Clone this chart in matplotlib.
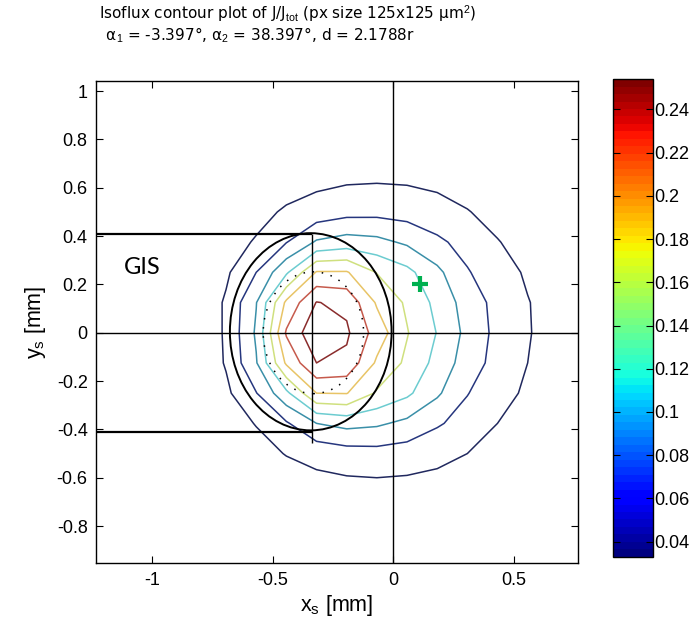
import matplotlib
matplotlib.use('Agg')
import matplotlib.pyplot as plt
import numpy as np
from matplotlib.cm import ScalarMappable
from matplotlib.colors import Normalize
from matplotlib.patches import Ellipse

# detector pixel centres (125 um pitch), mm
x_px = [-0.943, -0.818, -0.693, -0.568, -0.443, -0.318, -0.193, -0.068,
        0.057, 0.182, 0.307, 0.432, 0.557, 0.682]
y_px = [-0.75, -0.625, -0.5, -0.375, -0.25, -0.125, 0.0,
        0.125, 0.25, 0.375, 0.5, 0.625, 0.75]

# J/J_tot, rows bottom -> top
flux = [
    [0.020, 0.028, 0.033, 0.033, 0.034, 0.035, 0.037, 0.038, 0.037, 0.036, 0.034, 0.033, 0.033, 0.030],
    [0.020, 0.028, 0.033, 0.035, 0.039, 0.043, 0.045, 0.046, 0.045, 0.043, 0.040, 0.035, 0.033, 0.030],
    [0.020, 0.030, 0.036, 0.042, 0.051, 0.058, 0.064, 0.066, 0.063, 0.057, 0.050, 0.043, 0.036, 0.032],
    [0.020, 0.030, 0.040, 0.051, 0.072, 0.100, 0.108, 0.104, 0.094, 0.078, 0.065, 0.050, 0.041, 0.034],
    [0.020, 0.031, 0.045, 0.074, 0.119, 0.175, 0.176, 0.147, 0.130, 0.104, 0.076, 0.059, 0.046, 0.037],
    [0.020, 0.030, 0.052, 0.098, 0.179, 0.225, 0.219, 0.171, 0.145, 0.117, 0.088, 0.066, 0.050, 0.039],
    [0.020, 0.030, 0.053, 0.1035, 0.203, 0.245, 0.229, 0.189, 0.1515, 0.124, 0.093, 0.068, 0.052, 0.037],
    [0.020, 0.030, 0.053, 0.099, 0.180, 0.226, 0.219, 0.172, 0.146, 0.118, 0.089, 0.067, 0.051, 0.040],
    [0.020, 0.031, 0.046, 0.075, 0.121, 0.177, 0.177, 0.149, 0.132, 0.106, 0.077, 0.060, 0.047, 0.038],
    [0.020, 0.030, 0.041, 0.052, 0.074, 0.103, 0.111, 0.107, 0.096, 0.080, 0.066, 0.051, 0.042, 0.035],
    [0.020, 0.030, 0.036, 0.043, 0.053, 0.060, 0.067, 0.068, 0.065, 0.059, 0.051, 0.043, 0.037, 0.032],
    [0.020, 0.028, 0.033, 0.036, 0.040, 0.045, 0.048, 0.049, 0.048, 0.045, 0.041, 0.036, 0.033, 0.030],
    [0.020, 0.028, 0.033, 0.033, 0.034, 0.036, 0.038, 0.039, 0.038, 0.037, 0.034, 0.033, 0.033, 0.030],
]

levels = [0.05, 0.075, 0.1, 0.125, 0.15, 0.175, 0.2, 0.225]
level_colors = ['#20285e', '#26367e', '#3a8fa8', '#6cccd0',
                '#cfe07e', '#e8c466', '#c65a4c', '#8a2c2c']
clim = [0.033, 0.254]
cbar_ticks = [0.04, 0.06, 0.08, 0.1, 0.12, 0.14, 0.16, 0.18, 0.2, 0.22, 0.24]
cbar_labels = ['0.04', '0.06', '0.08', '0.1', '0.12', '0.14', '0.16',
               '0.18', '0.2', '0.22', '0.24']

xticks = [-1, -0.5, 0, 0.5]
xtick_labels = ['-1', '-0.5', '0', '0.5']
yticks = [-0.8, -0.6, -0.4, -0.2, 0, 0.2, 0.4, 0.6, 0.8, 1]
ytick_labels = ['-0.8', '-0.6', '-0.4', '-0.2', '0', '0.2', '0.4', '0.6', '0.8', '1']
xlim = [-1.232, 0.764]
ylim = [-0.954, 1.043]

# GIS nozzle footprint and beam ellipses (mm)
gis_half_width = 0.41
gis_end_x = -0.338
gis_stub_bottom = -0.455
spot_center = (-0.342, 0.004)
spot_axes = (0.67, 0.816)
core_center = (-0.331, 0.0)
core_axes = (0.416, 0.504)
target_xy = (0.11, 0.20)

plt.rcParams['font.family'] = ['Liberation Sans', 'DejaVu Sans']
plt.rcParams['mathtext.fontset'] = 'custom'
plt.rcParams['mathtext.rm'] = 'Liberation Sans'
plt.rcParams['mathtext.it'] = 'Liberation Sans:italic'

fig = plt.figure(figsize=(6.93, 6.30), dpi=100)
ax = fig.add_axes([0.1385, 0.1059, 0.695, 0.766])

Z = np.array(flux)
ax.contour(x_px, y_px, Z, levels=levels, colors=level_colors, linewidths=1.1, zorder=2)

ax.axhline(0, color='black', lw=1.0, zorder=3)
ax.axvline(0, color='black', lw=1.0, zorder=3)

ax.hlines([gis_half_width, -gis_half_width], xlim[0], gis_end_x, color='black', lw=1.6, zorder=4)
ax.vlines(gis_end_x, gis_stub_bottom, gis_half_width, color='black', lw=1.0, zorder=4)
ax.text(-1.04, 0.27, 'GIS', family=['Lato', 'DejaVu Sans'], fontsize=17,
        ha='center', va='center')

ax.add_patch(Ellipse(spot_center, spot_axes[0], spot_axes[1], fill=False,
                     ec='black', lw=1.4, zorder=4))
ax.add_patch(Ellipse(core_center, core_axes[0], core_axes[1], fill=False,
                     ec='black', lw=1.1, ls=(0, (1, 5)), zorder=4))

ax.plot(*target_xy, marker='+', color='#00b050', ms=11, mew=3, zorder=5)

ax.set_xlim(xlim)
ax.set_ylim(ylim)
ax.set_xticks(xticks)
ax.set_xticklabels(xtick_labels)
ax.set_yticks(yticks)
ax.set_yticklabels(ytick_labels)
ax.tick_params(direction='in', top=True, right=True, length=5, width=0.8,
               labelsize=13, pad=6)
for sp in ax.spines.values():
    sp.set_linewidth(1.0)
ax.set_xlabel('x$_\\mathrm{s}$ [mm]', fontsize=15.5, labelpad=3)
ax.set_ylabel('y$_\\mathrm{s}$ [mm]', fontsize=15.5, labelpad=6)

title_font = ['DejaVu Sans']
fig.text(99 / 693, 1 - 19.0 / 630,
         'Isoflux contour plot of J/J$_\\mathrm{tot}$ (px size 125x125 \u03bcm$^\\mathrm{2}$)',
         family=title_font, fontsize=11, ha='left', va='baseline')
fig.text(101 / 693, 1 - 40.5 / 630,
         ' \u03b1$_\\mathrm{1}$ = -3.397\u00b0, \u03b1$_\\mathrm{2}$ = 38.397\u00b0, d = 2.1788r',
         family=title_font, fontsize=11, ha='left', va='baseline')

cax = fig.add_axes([0.885, 0.1163, 0.0577, 0.758])
sm = ScalarMappable(norm=Normalize(vmin=clim[0], vmax=clim[1]), cmap=plt.get_cmap('jet', 64))
cb = fig.colorbar(sm, cax=cax)
cb.set_ticks(cbar_ticks)
cb.set_ticklabels(cbar_labels)
cax.tick_params(direction='in', left=True, right=True, length=5, width=0.8,
                labelsize=13, pad=1)
cb.outline.set_linewidth(1.0)

fig.savefig('out.png', dpi=100, facecolor='white')
